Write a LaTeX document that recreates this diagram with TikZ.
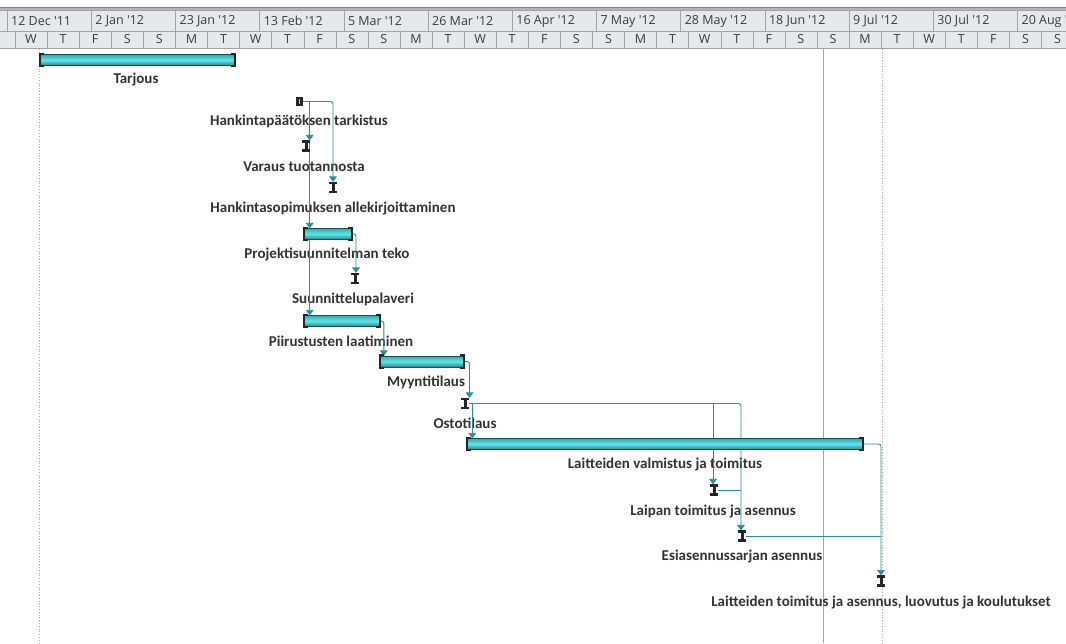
\documentclass[tikz,border=0pt]{standalone}
\usepackage{fontspec}
\setmainfont{Carlito}
\newfontfamily\hdrfont{Open Sans}
\usetikzlibrary{arrows.meta}
\pgfdeclarelayer{bg}
\pgfdeclarelayer{lines}
\pgfsetlayers{bg,lines,main}
\definecolor{hdrbg}{HTML}{E6E8EB}
\definecolor{hdrline}{HTML}{A3A3A3}
\definecolor{hdrtop}{HTML}{B4B4B4}
\definecolor{hdrtext}{HTML}{3C3C3C}
\definecolor{linkc}{HTML}{2A8F95}
\definecolor{barA}{HTML}{35A9AF}
\definecolor{barB}{HTML}{62E4EA}
\definecolor{barC}{HTML}{27868B}
\definecolor{capc}{HTML}{262626}
\definecolor{todayc}{HTML}{EE9050}
\definecolor{dotc}{HTML}{A8A8A8}
\definecolor{lbl}{HTML}{333333}
\newcommand\ibeam[1]{%
  \fill[capc] ([xshift=-4pt]#1.north) rectangle ([xshift=4pt,yshift=-2.5pt]#1.north);
  \fill[capc] ([xshift=-4pt]#1.south) rectangle ([xshift=4pt,yshift=2.5pt]#1.south);
  \fill[capc] ([xshift=-1.5pt]#1.north) rectangle ([xshift=1.5pt]#1.south);}
\newcommand\barends[1]{%
  \draw[capline] ([xshift=4pt,yshift=0.5pt]#1.north west) -- ([yshift=0.5pt]#1.north west) -- ([yshift=-0.5pt]#1.south west) -- ([xshift=4pt,yshift=-0.5pt]#1.south west);
  \draw[capline] ([xshift=-4pt,yshift=0.5pt]#1.north east) -- ([yshift=0.5pt]#1.north east) -- ([yshift=-0.5pt]#1.south east) -- ([xshift=-4pt,yshift=-0.5pt]#1.south east);}
\begin{document}
\begin{tikzpicture}[x=1pt,y=-1pt,
  bar/.style={rectangle, inner sep=0pt, minimum height=11pt, draw=barC!60!black, line width=0.4pt, top color=barA, bottom color=barC, middle color=barB},
  ms/.style={rectangle, inner sep=0pt, minimum width=8pt, minimum height=11pt},
  lab/.style={font=\bfseries\fontsize{15}{17}\selectfont, text=lbl, inner sep=0pt},
  link/.style={draw=linkc, line width=0.9pt, rounded corners=2.5pt},
  arr/.style={-{Triangle[width=8pt,length=5.5pt]}},
  hdr/.style={font=\hdrfont\fontsize{12.5}{14}\selectfont, text=hdrtext, inner sep=0pt},
  capline/.style={draw=capc, line width=1.8pt}]
\useasboundingbox (0,0) rectangle (1066,643);
\begin{pgfonlayer}{bg}
\clip (0,0) rectangle (1066,643);
\fill[white] (0,0) rectangle (1066,643);
% header
\fill[hdrtop] (0,7) rectangle (1066,10.5);
\draw[hdrline!80!black] (0,7) -- (1066,7);
\fill[hdrbg] (0,10.5) rectangle (1066,48);
\draw[hdrline] (0,10.5) -- (1066,10.5) (0,31) -- (1066,31) (0,48) -- (1066,48);
\foreach \k in {0,...,12} \draw[hdrline] (7+84.2*\k,10.5) -- ++(0,20.5);
\foreach \k in {0,...,33} \draw[hdrline] (15+32.08*\k,31) -- ++(0,17);
\foreach \t [count=\k from 0] in {12 Dec '11,2 Jan '12,23 Jan '12,13 Feb '12,5 Mar '12,26 Mar '12,16 Apr '12,7 May '12,28 May '12,18 Jun '12,9 Jul '12,30 Jul '12,20 Aug '12}
  \node[hdr, anchor=west] (d\k) at (11+84.2*\k,21) {\t};
\foreach \t [count=\k from 0] in {W,T,F,S,S,M,T,W,T,F,S,S,M,T,W,T,F,S,S,M,T,W,T,F,S,S,M,T,W,T,F,S,S}
  \node[hdr, anchor=center] (w\k) at (31+32.08*\k,39.5) {\t};
% vertical markers
\draw[dotc, dotted, line width=0.8pt] (39.5,49) -- (39.5,643);
\draw[dotc, dotted, line width=0.8pt] (882.5,49) -- (882.5,643);
\draw[todayc, line width=1.1pt] (823.5,48) -- (823.5,643);
% labels
\node[lab] (l1) at (136,80) {Tarjous};
\node[lab] (l2) at (299,121) {Hankintapäätöksen tarkistus};
\node[lab] (l3) at (304,167) {Varaus tuotannosta};
\node[lab] (l4) at (333,209) {Hankintasopimuksen allekirjoittaminen};
\node[lab] (l5) at (327,254) {Projektisuunnitelman teko};
\node[lab] (l6) at (353,299) {Suunnittelupalaveri};
\node[lab] (l7) at (341,341) {Piirustusten laatiminen};
\node[lab] (l8) at (426,382) {Myyntitilaus};
\node[lab] (l9) at (465,423) {Ostotilaus};
\node[lab] (l10) at (665,464) {Laitteiden valmistus ja toimitus};
\node[lab] (l11) at (713,511) {Laipan toimitus ja asennus};
\node[lab] (l12) at (742,556) {Esiasennussarjan asennus};
\node[lab] (l13) at (881,602) {Laitteiden toimitus ja asennus, luovutus ja koulutukset};
\end{pgfonlayer}
% task nodes
\node[bar, minimum width=195pt] (t1) at (137.5,60) {};
\node[rectangle, fill=capc, minimum width=7pt, minimum height=9pt, inner sep=0pt] (t2) at (299.5,101.5) {};
\fill[barB] ([xshift=-0.9pt,yshift=-2pt]t2.north) rectangle ([xshift=0.9pt,yshift=2pt]t2.south);
\node[ms] (t3) at (306,146) {};
\node[ms] (t4) at (333,187.5) {};
\node[bar, minimum width=48pt] (t5) at (328,234) {};
\node[ms] (t6) at (355,278.5) {};
\node[bar, minimum width=76pt] (t7) at (342,321) {};
\node[bar, minimum width=84pt] (t8) at (422,361.5) {};
\node[ms] (t9) at (465,403.5) {};
\node[bar, minimum width=396pt] (t10) at (665,444) {};
\node[ms] (t11) at (714,490) {};
\node[ms] (t12) at (742,536) {};
\node[ms] (t13) at (881,581) {};
\foreach \b in {t1,t5,t7,t8,t10} {\barends{\b}}
\foreach \m in {t3,t4,t6,t9,t11,t12,t13} {\ibeam{\m}}
% connectors
\begin{pgfonlayer}{lines}
\coordinate (v1) at ([xshift=6.5pt]t2.east);
\coordinate (a10) at ([xshift=5.5pt]t10.north west);
\coordinate (a11) at ([xshift=-1pt]t11.north);
\coordinate (a12) at ([xshift=-1pt]t12.north);
\draw[link, arr] (t2.east) -| (t4.north);
\draw[link, arr] (v1) -- (v1 |- t3.north);
\draw[link, arr] (v1) -- (v1 |- t5.north);
\draw[link, arr] (v1) -- (v1 |- t7.north);
\draw[link, arr] (t5.east) -| ([xshift=1pt]t6.north);
\draw[link, arr] (t7.east) -| ([xshift=4pt]t8.north west);
\draw[link, arr] (t8.east) -| ([xshift=4.5pt]t9.north);
\draw[link, arr] (t9.east) -| (a12);
\draw[link, arr] (a11 |- t9.east) -- (a11);
\draw[link, arr] (a10 |- t9.east) -- (a10);
\draw[link] (t11.east) -- (t11.east -| a12);
\draw[link] (t12.east) -- (t12.east -| t13.north);
\draw[link, arr] (t10.east) -| (t13.north);
\end{pgfonlayer}
\end{tikzpicture}
\end{document}
